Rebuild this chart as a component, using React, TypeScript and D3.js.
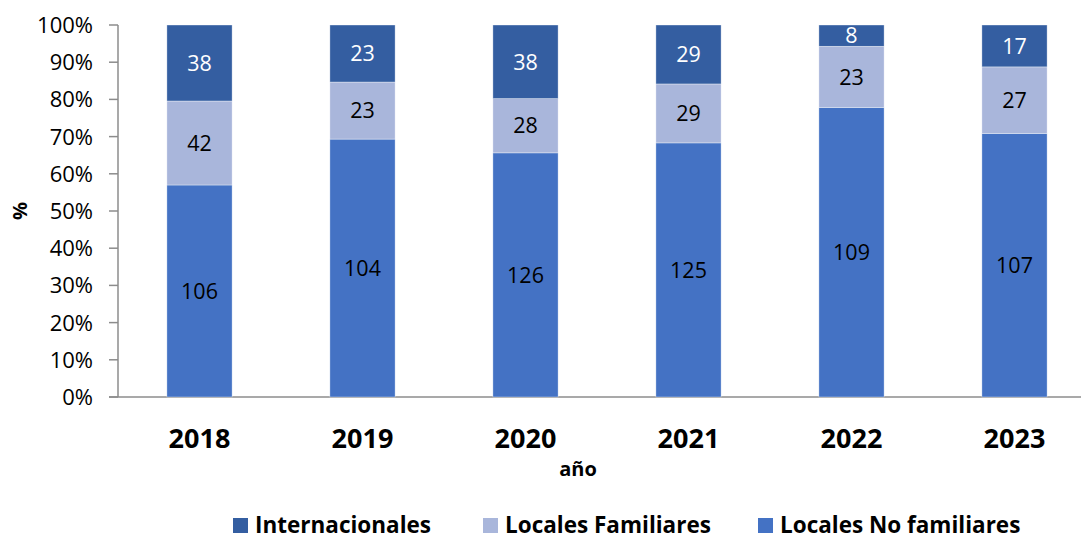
import React from "react";
import * as d3 from "d3";

const years = ["2018", "2019", "2020", "2021", "2022", "2023"];
const localesNoFamiliares = [106, 104, 126, 125, 109, 107];
const localesFamiliares = [42, 23, 28, 29, 23, 27];
const internacionales = [38, 23, 38, 29, 8, 17];
const yTicks = [0, 10, 20, 30, 40, 50, 60, 70, 80, 90, 100];

const seriesNames = ["Locales No familiares", "Locales Familiares", "Internacionales"];
const seriesColors = ["#4472C4", "#A9B6DB", "#345EA1"];
const labelColors = ["#000", "#000", "#fff"];

const legendOrder = [2, 1, 0];

export default function App() {
  const W = 1081, H = 540;
  const font = "'Open Sans', sans-serif";
  const x = d3.scaleBand<string>().domain(years).range([118, 1096]).paddingInner(0.6).paddingOuter(0.3);
  const y = d3.scaleLinear().domain([0, 100]).range([397, 25]);

  const rows = years.map((yr, i) => ({
    year: yr,
    s0: localesNoFamiliares[i],
    s1: localesFamiliares[i],
    s2: internacionales[i],
  }));
  const stack = d3.stack<any>().keys(["s0", "s1", "s2"]).offset(d3.stackOffsetExpand);
  const stacked = stack(rows);

  const legendX = [233, 483, 758];

  return (
    <svg width={W} height={H} style={{ position: "absolute", left: 0, top: 0, background: "#fff" }}>
      <line x1={118} x2={118} y1={y(100)} y2={y(0)} stroke="#8c8c8c" strokeWidth={1.5} />
      <line x1={109} x2={1096} y1={y(0)} y2={y(0)} stroke="#8c8c8c" strokeWidth={1.5} />
      {yTicks.map((t) => (
        <g key={t}>
          <line x1={109} x2={118} y1={y(t)} y2={y(t)} stroke="#8c8c8c" strokeWidth={1.5} />
          <text x={93} y={y(t)} dy="0.36em" textAnchor="end" fontFamily={font} fontSize={22} fill="#000">
            {t}%
          </text>
        </g>
      ))}
      {stacked.map((layer, si) => (
        <g key={si}>
          {layer.map((d, i) => {
            const y0 = y(d[0] * 100);
            const y1 = y(d[1] * 100);
            const val = [localesNoFamiliares, localesFamiliares, internacionales][si][i];
            return (
              <g key={i}>
                <rect x={x(years[i])} y={y1} width={x.bandwidth()} height={y0 - y1} fill={seriesColors[si]} stroke="#fff" strokeWidth={0.6} strokeOpacity={0.6} />
                <text x={(x(years[i]) as number) + x.bandwidth() / 2} y={(y0 + y1) / 2} dy="0.36em" textAnchor="middle" fontFamily={font} fontSize={21.5} fill={labelColors[si]}>
                  {val}
                </text>
              </g>
            );
          })}
        </g>
      ))}
      {years.map((yr) => (
        <text key={yr} x={(x(yr) as number) + x.bandwidth() / 2} y={438} dy="0.36em" textAnchor="middle" fontFamily={font} fontSize={27} fontWeight="bold" fill="#000">
          {yr}
        </text>
      ))}
      <text x={578} y={469} dy="0.36em" textAnchor="middle" fontFamily={font} fontSize={20} fontWeight="bold">año</text>
      <text transform={`translate(20,211) rotate(-90)`} dy="0.36em" textAnchor="middle" fontFamily={font} fontSize={20} fontWeight="bold">%</text>
      {legendOrder.map((si, k) => (
        <g key={si}>
          <rect x={legendX[k]} y={518} width={15} height={15} fill={seriesColors[si]} />
          <text x={legendX[k] + 22} y={525} dy="0.36em" fontFamily={font} fontSize={22.5} fontWeight="bold">{seriesNames[si]}</text>
        </g>
      ))}
    </svg>
  );
}
